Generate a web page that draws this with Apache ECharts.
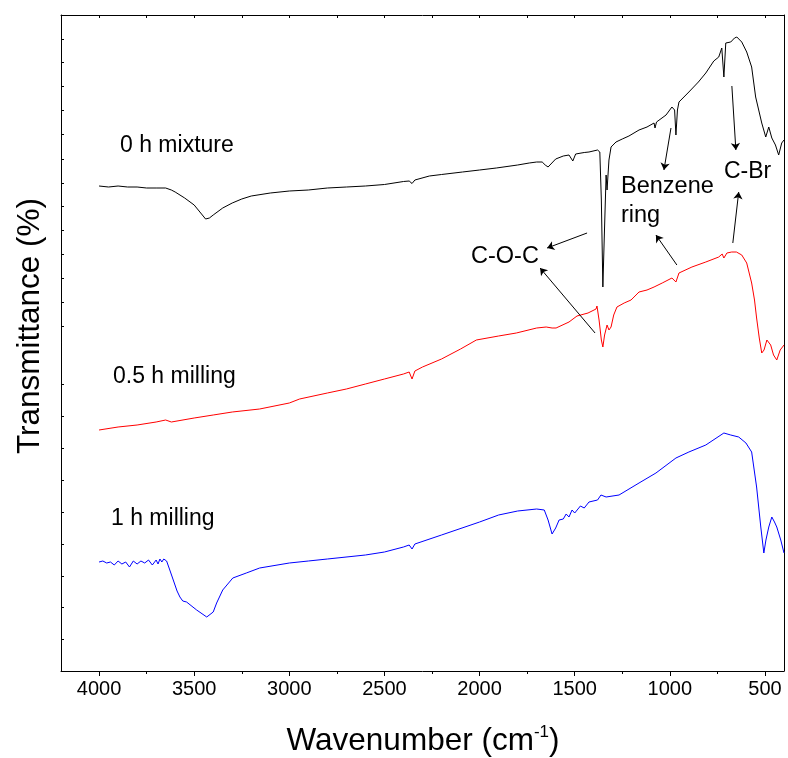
<!DOCTYPE html>
<html>
<head>
<meta charset="utf-8">
<script src="https://cdn.jsdelivr.net/npm/echarts@6/dist/echarts.min.js"></script>
<style>html,body{margin:0;padding:0;background:#fff}#c{width:788px;height:758px}</style>
</head>
<body>
<div id="c"></div>
<script>
// wavenumber (cm-1), transmittance (arbitrary offset units)
var mix0 = [[4000,48.5],[3950,48.4],[3900,48.5],[3850,48.4],[3800,48.4],[3750,48.3],[3700,48.3],[3650,48.3],[3620,48.1],[3600,47.9],[3550,47.3],[3500,46.6],[3470,45.9],[3440,45.2],[3420,45.3],[3400,45.6],[3350,46.3],[3300,46.8],[3250,47.2],[3200,47.5],[3100,47.8],[3000,48.0],[2900,48.1],[2800,48.3],[2700,48.4],[2600,48.5],[2500,48.65],[2400,48.95],[2370,49.0],[2355,48.75],[2340,49.1],[2264,49.5],[2200,49.65],[2090,49.9],[2000,50.1],[1912,50.3],[1800,50.6],[1739,50.8],[1700,50.9],[1671,50.9],[1655,50.6],[1640,50.4],[1620,50.8],[1600,51.2],[1560,51.5],[1530,51.6],[1510,51.0],[1495,51.7],[1450,51.85],[1425,51.9],[1380,52.1],[1368,51.9],[1360,47.1],[1352,38.4],[1345,43.1],[1335,49.6],[1330,48.1],[1320,51.1],[1309,52.4],[1283,52.9],[1250,53.2],[1215,53.5],[1162,54.1],[1120,54.4],[1083,54.8],[1078,54.3],[1070,54.9],[1020,55.6],[989,56.4],[975,56.1],[968,53.6],[960,56.1],[952,56.9],[900,57.9],[850,58.9],[811,59.8],[769,61.0],[743,61.4],[727,62.3],[716,59.4],[706,62.8],[680,62.9],[660,63.3],[648,63.4],[622,62.9],[596,61.9],[570,60.4],[549,57.4],[533,56.1],[517,54.8],[496,53.4],[480,54.4],[464,53.3],[445,52.6],[428,51.6],[412,52.8],[400,53.1]];
var mill05 = [[4000,24.1],[3900,24.4],[3800,24.6],[3700,24.9],[3650,25.1],[3620,24.9],[3500,25.3],[3400,25.6],[3300,25.9],[3156,26.2],[3000,26.8],[2946,27.2],[2800,27.8],[2700,28.2],[2600,28.7],[2500,29.2],[2400,29.7],[2370,29.9],[2355,29.2],[2340,30.0],[2300,30.4],[2200,31.2],[2100,32.2],[2017,33.1],[1900,33.5],[1807,33.8],[1700,34.3],[1650,34.4],[1619,34.3],[1598,34.3],[1530,34.9],[1488,35.5],[1430,35.8],[1388,36.2],[1383,36.5],[1372,35.1],[1360,33.1],[1352,32.4],[1343,33.6],[1330,34.6],[1320,34.1],[1309,34.4],[1295,35.6],[1278,36.4],[1240,36.8],[1204,37.1],[1162,37.9],[1120,38.1],[1083,38.4],[1040,38.8],[989,39.3],[968,38.9],[952,39.8],[884,40.4],[811,40.9],[743,41.4],[725,41.7],[716,41.3],[700,41.8],[675,41.9],[650,41.9],[622,41.6],[596,40.8],[570,38.8],[555,37.1],[544,35.3],[530,33.3],[517,31.8],[505,32.1],[490,33.1],[480,33.1],[470,32.6],[455,31.6],[438,31.1],[420,32.1],[400,32.6]];
var mill1 = [[4000,10.9],[3980,11.0],[3960,10.8],[3940,10.9],[3920,10.6],[3900,11.0],[3880,10.7],[3860,10.9],[3840,10.4],[3820,11.0],[3800,10.7],[3780,11.0],[3760,10.8],[3740,11.1],[3720,10.6],[3700,11.1],[3690,10.7],[3680,11.2],[3670,10.9],[3660,11.2],[3645,11.0],[3630,10.2],[3610,9.1],[3590,8.0],[3575,7.4],[3560,7.0],[3540,6.9],[3487,6.1],[3434,5.4],[3400,5.9],[3382,6.8],[3350,8.1],[3297,9.3],[3226,9.8],[3156,10.3],[3000,10.8],[2900,11.0],[2800,11.2],[2600,11.6],[2500,11.9],[2400,12.4],[2370,12.6],[2355,12.2],[2340,12.7],[2200,13.6],[2000,14.9],[1900,15.6],[1800,16.0],[1700,16.2],[1660,16.1],[1640,15.1],[1619,13.7],[1600,14.3],[1582,15.1],[1560,15.2],[1545,15.7],[1530,15.4],[1514,16.1],[1500,15.8],[1470,16.5],[1450,16.3],[1425,16.9],[1380,17.1],[1362,17.6],[1335,17.4],[1267,17.6],[1162,18.8],[1073,19.8],[968,21.3],[900,21.9],[811,22.6],[716,23.8],[680,23.6],[638,23.4],[600,22.8],[570,21.9],[544,18.4],[522,14.4],[506,11.8],[495,13.1],[480,14.4],[464,15.4],[450,14.9],[438,14.4],[417,13.1],[400,11.8]];

var seriesNames = ['0 h mixture', '0.5 h milling', '1 h milling'];
var majorTicks = [4000,3500,3000,2500,2000,1500,1000,500];
var minorTicks = [3750,3250,2750,2250,1750,1250,750];
var topTicks = [4000,3750,3500,3250,3000,2750,2500,2250,2000,1750,1500,1250,1000,750,500];
var yTicks = [63.2,60.9,58.5,56.1,53.7,51.2,48.8,46.5,44.1,41.7,39.3,36.9,34.5,28.7,25.5,22.3,19.1,15.9,12.7,9.5,6.4,3.2];
// annotation arrows [from, to] in data coordinates
var arrows = [
  [[1435,43.8],[1645,42.3]],
  [[1393,33.8],[1682,40.3]],
  [[994,54.3],[1031,50.1]],
  [[963,40.6],[1073,43.6]],
  [[674,58.5],[653,52.1]],
  [[669,42.8],[638,47.9]]
];

var FONT = '"Liberation Sans", Arial, sans-serif';
var chart = echarts.init(document.getElementById('c'));
var ink = '#000';

chart.setOption({
  animation: false,
  backgroundColor: '#fff',
  grid: {left: 61, right: 4, top: 15, bottom: 87},
  xAxis: [
    {type: 'value', min: 400, max: 4200, inverse: true, position: 'bottom',
     axisLine: {show: true, onZero: false, lineStyle: {color: ink, width: 1}},
     axisTick: {show: true, inside: false, length: 5, customValues: majorTicks, lineStyle: {color: ink}},
     axisLabel: {show: true, customValues: majorTicks, fontSize: 20, color: ink, fontFamily: FONT, margin: 8,
       formatter: function (v) { return String(v); }},
     splitLine: {show: false}},
    {type: 'value', min: 400, max: 4200, inverse: true, position: 'bottom',
     axisLine: {show: false, onZero: false},
     axisTick: {show: true, inside: false, length: 3, customValues: minorTicks, lineStyle: {color: ink}},
     axisLabel: {show: false}, splitLine: {show: false}},
    {type: 'value', min: 400, max: 4200, inverse: true, position: 'top',
     axisLine: {show: true, onZero: false, lineStyle: {color: ink, width: 1}},
     axisTick: {show: true, inside: true, length: 3, customValues: topTicks, lineStyle: {color: ink}},
     axisLabel: {show: false}, splitLine: {show: false}}
  ],
  yAxis: [
    {type: 'value', min: 0, max: 65.6, position: 'left',
     axisLine: {show: true, onZero: false, lineStyle: {color: ink, width: 1}},
     axisTick: {show: true, inside: true, length: 3, customValues: yTicks, lineStyle: {color: ink}},
     axisLabel: {show: false}, splitLine: {show: false}},
    {type: 'value', min: 0, max: 65.6, position: 'right',
     axisLine: {show: true, onZero: false, lineStyle: {color: ink, width: 1}},
     axisTick: {show: false}, axisLabel: {show: false}, splitLine: {show: false}}
  ],
  series: [
    {name: seriesNames[0], type: 'line', data: mix0, showSymbol: false, symbol: 'none',
     lineStyle: {color: '#000000', width: 1}, itemStyle: {color: '#000000'},
     markLine: {silent: true, symbol: ['none', 'arrow'], symbolSize: 7, animation: false,
       lineStyle: {color: ink, width: 1, type: 'solid'}, label: {show: false},
       data: arrows.map(function (a) { return [{coord: a[0]}, {coord: a[1]}]; })}},
    {name: seriesNames[1], type: 'line', data: mill05, showSymbol: false, symbol: 'none',
     lineStyle: {color: '#ff0000', width: 1}, itemStyle: {color: '#ff0000'}},
    {name: seriesNames[2], type: 'line', data: mill1, showSymbol: false, symbol: 'none',
     lineStyle: {color: '#0000ff', width: 1}, itemStyle: {color: '#0000ff'}}
  ],
  graphic: [
    {type: 'text', left: 120, top: 134, style: {text: seriesNames[0], fontSize: 23, fill: ink, fontFamily: FONT}},
    {type: 'text', left: 113, top: 365, style: {text: seriesNames[1], fontSize: 23, fill: ink, fontFamily: FONT}},
    {type: 'text', left: 111, top: 507, style: {text: seriesNames[2], fontSize: 23, fill: ink, fontFamily: FONT}},
    {type: 'text', left: 471, top: 245, style: {text: 'C-O-C', fontSize: 23.5, fill: ink, fontFamily: FONT}},
    {type: 'text', left: 621, top: 172, style: {text: 'Benzene\nring', fontSize: 23.5, lineHeight: 29, fill: ink, fontFamily: FONT}},
    {type: 'text', left: 724, top: 160, style: {text: 'C-Br', fontSize: 23, fill: ink, fontFamily: FONT}},
    {type: 'text', x: 30, y: 326, rotation: Math.PI / 2, style: {text: 'Transmittance (%)', fontSize: 31.5, fill: ink, fontFamily: FONT, align: 'center', verticalAlign: 'middle'}},
    {type: 'text', x: 423, y: 741, style: {text: 'Wavenumber (cm{sup|-1})', fontSize: 31.5, fill: ink, fontFamily: FONT, align: 'center', verticalAlign: 'middle',
      rich: {sup: {fontSize: 17, fontFamily: FONT, fill: ink, padding: [0, 0, 17, 0]}}}}
  ]
});
</script>
</body>
</html>
